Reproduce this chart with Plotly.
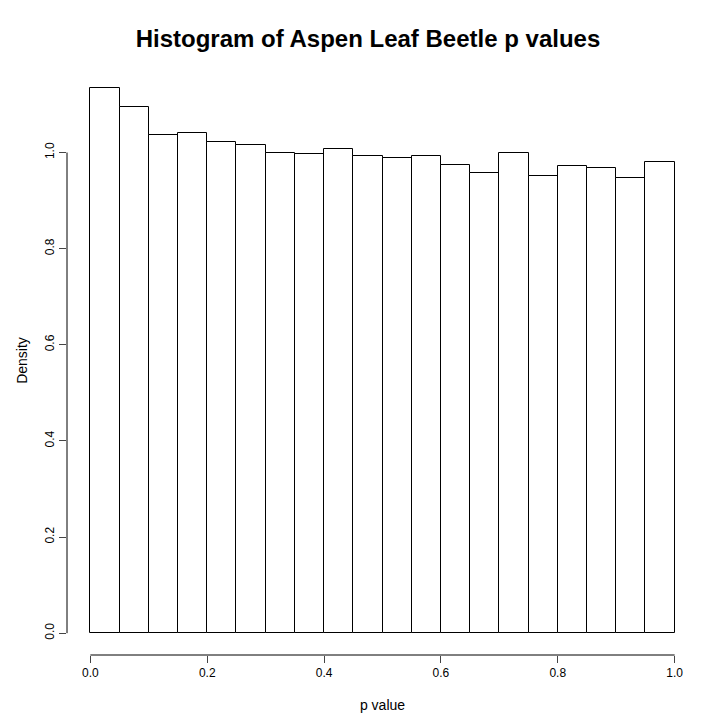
import plotly.graph_objects as go

# bin left edges and densities
bin_starts = [0.00, 0.05, 0.10, 0.15, 0.20, 0.25, 0.30, 0.35, 0.40, 0.45,
              0.50, 0.55, 0.60, 0.65, 0.70, 0.75, 0.80, 0.85, 0.90, 0.95]
density = [1.135, 1.094, 1.037, 1.040, 1.021, 1.015, 0.998, 0.996, 1.008, 0.992,
           0.988, 0.992, 0.975, 0.958, 1.000, 0.952, 0.973, 0.967, 0.946, 0.981]
bin_width = 0.05
x_ticks = [0.0, 0.2, 0.4, 0.6, 0.8, 1.0]
y_ticks = [0.0, 0.2, 0.4, 0.6, 0.8, 1.0]

fig = go.Figure(go.Bar(
    x=[b + bin_width / 2 for b in bin_starts],
    y=density,
    width=bin_width,
    marker=dict(color="white", line=dict(color="black", width=1)),
    hoverinfo="x+y",
))

font = dict(family="Liberation Sans, Arial", size=12, color="black")
fig.update_layout(
    width=720, height=720,
    margin=dict(l=59, r=30, t=58, b=73, autoexpand=False),
    plot_bgcolor="white", paper_bgcolor="white",
    font=font, showlegend=False, bargap=0,
    title=dict(text="<b>Histogram of Aspen Leaf Beetle p values</b>",
               x=0.5, xanchor="center", y=0.958, yanchor="middle",
               font=dict(family="Liberation Sans, Arial", size=24, color="black")),
)
fig.update_xaxes(range=[-0.04, 1.04], tickvals=x_ticks,
                 ticktext=[f"{v:.1f}" for v in x_ticks], automargin=False,
                 ticks="outside", ticklen=7, showgrid=False, zeroline=False,
                 showline=False, title=dict(text="p value", standoff=20))
fig.update_yaxes(range=[-0.0454, 1.18], tickvals=y_ticks,
                 ticktext=[f"{v:.1f}" for v in y_ticks], tickangle=-90,
                 automargin=False,
                 ticks="outside", ticklen=7, showgrid=False, zeroline=False,
                 showline=False, title=dict(text="Density", standoff=12))

# detached R-style axis lines
fig.add_shape(type="line", xref="x", yref="paper", x0=0, x1=1, y0=0, y1=0,
              line=dict(color="black", width=1))
fig.add_shape(type="line", xref="paper", yref="y", x0=0, x1=0, y0=0, y1=1,
              line=dict(color="black", width=1))

fig.write_html("out.html")
